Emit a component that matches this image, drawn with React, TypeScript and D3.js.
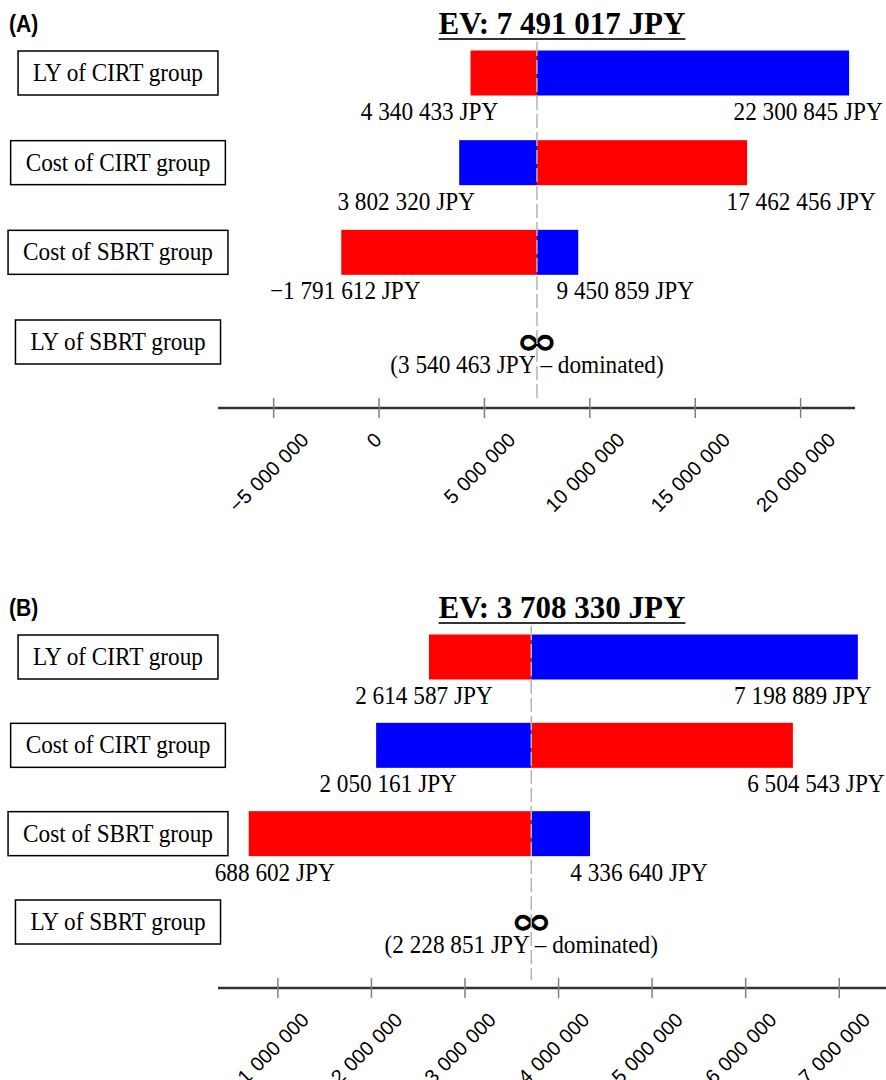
import React, { useEffect, useRef } from 'react';
import * as d3 from 'd3';

const categories = ['LY of CIRT group', 'Cost of CIRT group', 'Cost of SBRT group', 'LY of SBRT group'];

// panel A
const evA = 7491017;
const lowA = [4340433, 3802320, -1791612];
const highA = [22300845, 17462456, 9450859];
const dominatedA = 3540463;
const ticksA = [-5000000, 0, 5000000, 10000000, 15000000, 20000000];

// panel B
const evB = 3708330;
const lowB = [2614587, 2050161, 688602];
const highB = [7198889, 6504543, 4336640];
const dominatedB = 2228851;
const ticksB = [1000000, 2000000, 3000000, 4000000, 5000000, 6000000, 7000000];

const lowColors = ['#ff0000', '#0000ff', '#ff0000'];
const highColors = ['#0000ff', '#ff0000', '#0000ff'];

const SERIF = '"Liberation Serif", "Times New Roman", serif';
const SANS = '"Liberation Sans", Arial, sans-serif';
const SX = 0.93; // text in the source is a bit condensed

const fmt = (v: number) => d3.format(',')(v).replace(/,/g, ' ');

const panels = [
  {
    tag: '(A)', ev: evA, low: lowA, high: highA, dominated: dominatedA, ticks: ticksA,
    domain: [-7640000, 22580000], axisRight: 855, top: 0, rows: [73, 342],
    leftShift: [-41, -53, 4], rightShift: [-41, 54, 47],
  },
  {
    tag: '(B)', ev: evB, low: lowB, high: highB, dominated: dominatedB, ticks: ticksB,
    domain: [360000, 7500000], axisRight: 886, top: 584, rows: [73, 338],
    leftShift: [-5, 12, 26], rightShift: [-55, 23, 49],
  },
];

const App = () => {
  const svgRef = useRef<SVGSVGElement>(null);

  useEffect(() => {
    const svg = d3.select(svgRef.current);
    svg.selectAll('*').remove();

    const text = (g: any, x: number, y: number, str: string, size: number, anchor = 'middle') =>
      g.append('text')
        .attr('transform', `translate(${x},${y}) scale(${SX},1)`)
        .attr('text-anchor', anchor)
        .attr('font-family', SERIF)
        .attr('font-size', size)
        .attr('fill', '#000')
        .text(str);

    panels.forEach(p => {
      const g = svg.append('g').attr('transform', `translate(0,${p.top})`);
      const x = d3.scaleLinear().domain(p.domain).range([218, p.axisRight]);
      const y = d3.scalePoint().domain(categories).range(p.rows);
      const axisY = p.rows[1] + 66;
      const barH = 45;

      // panel tag
      g.append('text')
        .attr('transform', 'translate(9,32) scale(0.92,1)')
        .attr('font-family', SANS).attr('font-weight', 'bold').attr('font-size', 23)
        .text(p.tag);

      // title
      const title = g.append('text')
        .attr('x', 562).attr('y', 34)
        .attr('text-anchor', 'middle')
        .attr('font-family', SERIF).attr('font-weight', 'bold').attr('font-size', 31)
        .text(`EV: ${fmt(p.ev)} JPY`);
      const tb = (title.node() as SVGTextElement).getBBox();
      g.append('line')
        .attr('x1', tb.x).attr('x2', tb.x + tb.width)
        .attr('y1', 39).attr('y2', 39)
        .attr('stroke', '#333').attr('stroke-width', 2);

      // bars
      p.low.forEach((v, i) => {
        const cy = y(categories[i])!;
        g.append('rect')
          .attr('x', Math.min(x(v), x(p.ev))).attr('y', cy - barH / 2)
          .attr('width', Math.abs(x(p.ev) - x(v))).attr('height', barH)
          .attr('fill', lowColors[i]);
        g.append('rect')
          .attr('x', x(p.ev)).attr('y', cy - barH / 2)
          .attr('width', x(p.high[i]) - x(p.ev)).attr('height', barH)
          .attr('fill', highColors[i]);
        text(g, x(v) + p.leftShift[i], cy + 47, `${fmt(v)} JPY`, 25);
        text(g, x(p.high[i]) + p.rightShift[i], cy + 47, `${fmt(p.high[i])} JPY`, 25);
      });

      // dominated row
      const dy = y(categories[3])!;
      g.append('text')
        .attr('transform', `translate(${x(p.ev)},${dy + 12}) scale(1.35,1)`)
        .attr('text-anchor', 'middle')
        .attr('font-family', '"DejaVu Sans", sans-serif').attr('font-weight', 'bold').attr('font-size', 38)
        .text('∞');
      text(g, x(p.ev) - 10, dy + 31, `(${fmt(p.dominated)} JPY – dominated)`, 25);

      // EV reference line
      g.append('line')
        .attr('x1', x(p.ev)).attr('x2', x(p.ev))
        .attr('y1', 42).attr('y2', axisY - 8)
        .attr('stroke', '#b4b4b4').attr('stroke-width', 1.5)
        .attr('stroke-dasharray', '14,4');

      // category boxes
      categories.forEach(c => {
        const cy = y(c)!;
        const t = text(g, 118, cy + 8, c, 25);
        const w = (t.node() as SVGTextElement).getComputedTextLength() * SX;
        g.insert('rect', 'text')
          .attr('x', 118 - w / 2 - 15).attr('y', cy - 22)
          .attr('width', w + 30).attr('height', 44)
          .attr('fill', '#fff').attr('stroke', '#000').attr('stroke-width', 1.5);
      });

      // axis
      g.append('line')
        .attr('x1', 218).attr('x2', p.axisRight)
        .attr('y1', axisY).attr('y2', axisY)
        .attr('stroke', '#333').attr('stroke-width', 2.5);
      const fs = 20;
      p.ticks.forEach(t => {
        g.append('line')
          .attr('x1', x(t)).attr('x2', x(t))
          .attr('y1', axisY - 10).attr('y2', axisY + 10)
          .attr('stroke', '#808080').attr('stroke-width', 1.5);
        const lbl = g.append('text')
          .attr('text-anchor', 'middle')
          .attr('dominant-baseline', 'central')
          .attr('font-family', SANS).attr('font-size', fs)
          .attr('word-spacing', 1)
          .text(fmt(t));
        const L = (lbl.node() as SVGTextElement).getComputedTextLength();
        const half = (L + fs * 0.72) * Math.SQRT1_2 / 2;
        lbl.attr('transform', `translate(${x(t) - 5},${axisY + 23 + half}) rotate(-45)`);
      });
    });
  }, []);

  return (
    <svg ref={svgRef} width={886} height={1080}
      style={{ position: 'absolute', left: 0, top: 0, background: '#fff' }} />
  );
};

export default App;
